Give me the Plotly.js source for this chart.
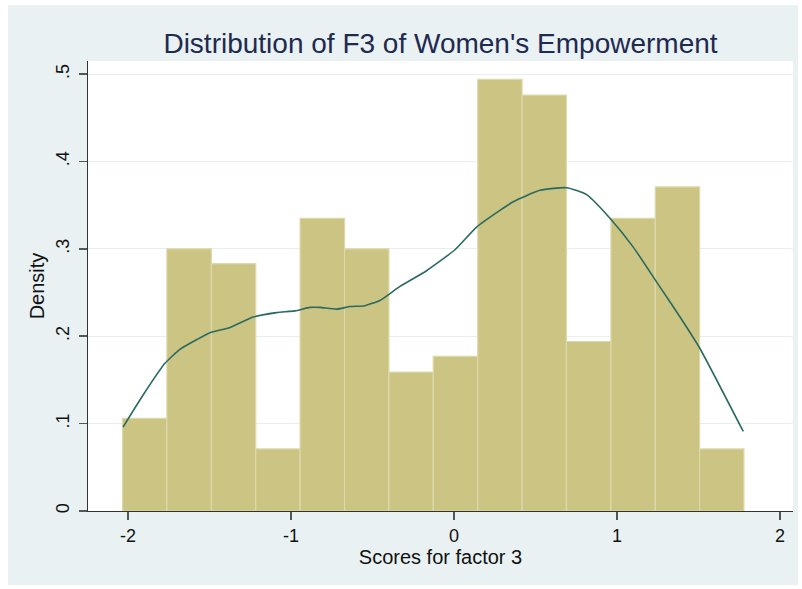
<!DOCTYPE html>
<html>
<head>
<meta charset="utf-8">
<script src="https://cdn.plot.ly/plotly-3.0.1.min.js"></script>
<style>
  html, body { margin: 0; padding: 0; background: #ffffff; width: 802px; height: 589px; overflow: hidden; }
  #chart { position: absolute; left: 8px; top: 5px; width: 790px; height: 580px; }
</style>
</head>
<body>
<div id="chart"></div>
<script>
// Histogram bin edges (scores for factor 3) and density of each bin
const binEdges = [-2.033, -1.761, -1.488, -1.216, -0.944, -0.671, -0.399, -0.127, 0.146, 0.418, 0.690, 0.963, 1.235, 1.507, 1.779];
const binDensity = [0.106, 0.300, 0.283, 0.071, 0.335, 0.300, 0.159, 0.177, 0.494, 0.476, 0.194, 0.335, 0.371, 0.071];

// Kernel density curve
const kdeX = [-2.03, -1.906, -1.773, -1.681, -1.579, -1.497, -1.374, -1.231, -1.088, -0.975, -0.883, -0.822, -0.720, -0.638, -0.546, -0.454, -0.331, -0.168, 0.006, 0.139, 0.282, 0.364, 0.528, 0.691, 0.814, 0.957, 1.100, 1.244, 1.387, 1.509, 1.775];
const kdeY = [0.096, 0.133, 0.169, 0.185, 0.196, 0.204, 0.210, 0.222, 0.227, 0.229, 0.233, 0.233, 0.231, 0.234, 0.235, 0.241, 0.257, 0.275, 0.299, 0.325, 0.344, 0.354, 0.367, 0.370, 0.362, 0.335, 0.302, 0.262, 0.222, 0.186, 0.091];

const xTickVals = [-2, -1, 0, 1, 2];
const xTickText = ['-2', '-1', '0', '1', '2'];
const yTickVals = [0, 0.1, 0.2, 0.3, 0.4, 0.5];
const yTickText = ['0', '.1', '.2', '.3', '.4', '.5'];

const titleText = "Distribution of F3 of Women's Empowerment";
const xTitle = 'Scores for factor 3';
const yTitle = 'Density';

const centers = binDensity.map((_, i) => (binEdges[i] + binEdges[i + 1]) / 2);
const widths = binDensity.map((_, i) => binEdges[i + 1] - binEdges[i]);

const FONT = 'Arial, "Liberation Sans", sans-serif';

const traces = [
  {
    type: 'bar',
    x: centers,
    y: binDensity,
    width: widths,
    marker: { color: '#CBC483', line: { color: '#DDD9AA', width: 1.2 } },
    hoverinfo: 'skip'
  },
  {
    type: 'scatter',
    mode: 'lines',
    x: kdeX,
    y: kdeY,
    line: { color: '#2A6A61', width: 1.6, shape: 'spline', smoothing: 0.5 },
    hoverinfo: 'skip'
  }
];

const layout = {
  width: 790,
  height: 580,
  margin: { l: 80, r: 5, t: 56, b: 74 },
  paper_bgcolor: '#E9F1F3',
  plot_bgcolor: '#FFFFFF',
  showlegend: false,
  bargap: 0,
  title: {
    text: titleText,
    font: { family: FONT, size: 28, color: '#1E2A50' },
    x: 0.5, xref: 'paper', xanchor: 'center',
    y: 0.935, yref: 'container', yanchor: 'middle'
  },
  xaxis: {
    range: [-2.245, 2.08],
    tickvals: xTickVals,
    ticktext: xTickText,
    ticks: 'outside', ticklen: 8, tickwidth: 1.5, tickcolor: '#555555',
    showline: true, linecolor: '#333333', linewidth: 1.3,
    showgrid: false, zeroline: false,
    tickfont: { family: FONT, size: 18, color: '#111111' },
    title: { text: xTitle, font: { family: FONT, size: 20, color: '#111111' }, standoff: 0 }
  },
  yaxis: {
    range: [0, 0.515],
    tickvals: yTickVals,
    ticktext: yTickText,
    tickangle: -90,
    ticklabelstandoff: 3,
    ticks: 'outside', ticklen: 8, tickwidth: 1.5, tickcolor: '#555555',
    showline: true, linecolor: '#333333', linewidth: 1.3,
    showgrid: true, gridcolor: '#E6EEF0', gridwidth: 1.2,
    zeroline: false,
    tickfont: { family: FONT, size: 18, color: '#111111' },
    title: { text: yTitle, font: { family: FONT, size: 20, color: '#111111' }, standoff: 2 }
  }
};

Plotly.newPlot('chart', traces, layout, { displayModeBar: false, staticPlot: true });
</script>
</body>
</html>
